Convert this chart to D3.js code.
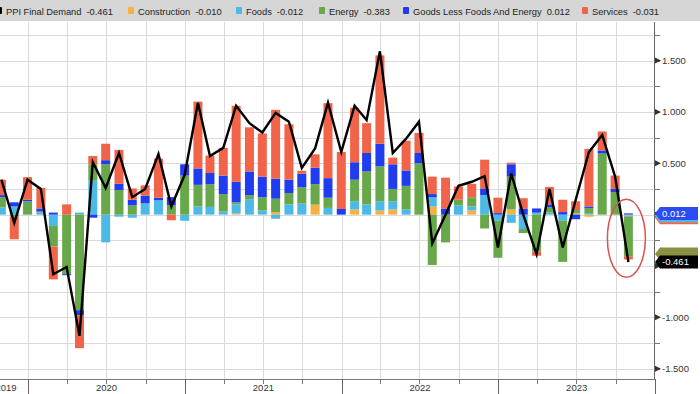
<!DOCTYPE html>
<html>
<head>
<meta charset="utf-8">
<script src="https://cdn.jsdelivr.net/npm/d3@7"></script>
<style>
body { margin:0; background:#fff; }
svg { display:block; font-family:"Liberation Sans", Arial, sans-serif; }
</style>
</head>
<body>
<svg id="chart" width="700" height="394"></svg>
<script>
// monthly readings (month-over-month contribution, %), Oct 2019 .. Oct 2023
var months = ["2019-10","2019-11","2019-12",
  "2020-01","2020-02","2020-03","2020-04","2020-05","2020-06","2020-07","2020-08","2020-09","2020-10","2020-11","2020-12",
  "2021-01","2021-02","2021-03","2021-04","2021-05","2021-06","2021-07","2021-08","2021-09","2021-10","2021-11","2021-12",
  "2022-01","2022-02","2022-03","2022-04","2022-05","2022-06","2022-07","2022-08","2022-09","2022-10","2022-11","2022-12",
  "2023-01","2023-02","2023-03","2023-04","2023-05","2023-06","2023-07","2023-08","2023-09","2023-10"];

var ppi = [0.34,-0.08,0.34,
  0.25,-0.58,-0.51,-1.18,0.51,0.26,0.60,0.17,0.25,0.59,0.08,0.385,
  1.09,0.57,0.65,1.06,0.89,0.80,0.99,0.905,0.455,0.645,1.09,0.61,
  1.06,0.92,1.59,0.60,0.74,0.905,-0.28,0.0,0.28,0.32,0.375,-0.32,
  0.40,0.0,-0.385,0.25,-0.32,0.14,0.61,0.775,0.37,-0.461];

var construction = [0,0,0,
  0,0,0,0,0,0,0,0,0,0,0,0,
  0,0,0,0.01,0,0,0.025,0,0,0.097,0,0,
  0.05,0,0.04,0.05,0,0,0.08,0,0,0.04,0,0,
  0.05,0,0,0,0,0.015,-0.02,0,0,-0.010];

var foods = [0.07,0.08,0,
  0.02,-0.11,0,0.02,0.33,-0.27,-0.02,-0.03,0.11,0.14,0,-0.06,
  0.08,0.075,0.03,0.09,0.15,0.04,-0.04,0.10,0.107,0,0.065,0,
  0.08,0.10,0.09,0.08,0.05,0,0.09,0,0.09,0.04,0.19,-0.06,
  -0.08,-0.14,0.02,0.02,-0.06,0,0.015,0,0,-0.012];

var energy = [0.10,-0.02,0.13,
  0.01,-0.20,-0.58,-0.93,0.16,0.49,0.24,0.09,0,0,0.09,0.38,
  0.21,0.22,0.17,0.02,0.04,0.13,0.13,0.11,0.16,0.20,0.10,0,
  0.21,0.32,0.34,0.12,0.23,0.50,-0.49,-0.27,0.055,0.09,-0.135,-0.36,
  0.32,-0.04,-0.36,0.05,-0.40,0.03,0.05,0.595,0.22,-0.383];

var goods = [0.02,0.04,0.015,
  0.03,0.02,-0.01,-0.05,-0.03,0.04,0.06,0.055,0.075,0.025,0.08,0.11,
  0.16,0.11,0.18,0.20,0.23,0.20,0.195,0.13,0.13,0.16,0.19,0.055,
  0.17,0.18,0.22,0.24,0.15,0.10,0.03,0.06,0,0,0.065,0.015,
  0.12,0.06,0.04,0.03,0.025,-0.045,0.015,0.03,0.03,0.012];

var services = [0.15,-0.22,0.22,
  0.20,-0.32,0.10,-0.32,0.08,0.16,0.33,0.11,0.10,0.38,-0.055,0,
  0.65,0.17,0.27,0.74,0.43,0.42,0.67,0.54,0.03,0.13,0.73,0.555,
  0.53,0.29,0.86,0.065,0.29,0.195,0.17,0.30,0.13,0.13,0.28,0.15,
  0.016,0.10,-0.04,0.17,0.12,0.085,0.56,0.185,0.13,-0.031];

var seriesKeys = ["construction","foods","energy","goods","services"];
var seriesNames = ["Construction","Foods","Energy","Goods Less Foods And Energy","Services"];
var seriesColors = ["#f5b144","#4db9e7","#68a84a","#1f3cf0","#f2644a"];
var lineName = "PPI Final Demand";
var yMajor = [-1.5,-1,-0.5,0,0.5,1,1.5];
var years = [2019,2020,2021,2022,2023];

var W = 700, H = 394;
var plotL = 0, plotR = 654, plotT = 22, plotB = 379;
var svg = d3.select('#chart');
var fmt = d3.formatLocale({decimal:'.', thousands:',', grouping:[3], currency:['$',''], minus:'-'}).format('.3f');

var parseM = d3.timeParse('%Y-%m');
var columns = {construction:construction, foods:foods, energy:energy, goods:goods, services:services};
var rows = months.map(function(m, i){
	// bloomberg stamps monthly data on the last day of the month
	var r = {date: d3.timeDay.offset(d3.timeMonth.offset(parseM(m), 1), -1), ppi: ppi[i]};
	seriesKeys.forEach(function(k){ r[k] = columns[k][i]; });
	return r;
});

var x = d3.scaleTime().domain([new Date(2020,0,1), new Date(2024,0,1)]).range([28, 655]);
var y = d3.scaleLinear().domain([-1.6, 1.875]).range([plotB, plotT]);

svg.append('rect').attr('width', W).attr('height', H).attr('fill', '#fff');
svg.append('clipPath').attr('id', 'plotclip').append('rect')
	.attr('x', plotL).attr('y', plotT).attr('width', plotR - plotL).attr('height', plotB - plotT);

//Gridlines
var grid = svg.append('g').attr('stroke', '#dadada').attr('stroke-width', 1);
grid.selectAll('line.h').data(d3.range(-1.5, 1.8, 0.25)).enter().append('line')
	.attr('x1', plotL).attr('x2', plotR)
	.attr('y1', function(d){ return Math.round(y(d)) + 0.5; })
	.attr('y2', function(d){ return Math.round(y(d)) + 0.5; });
var quarters = d3.timeMonth.every(3).range(new Date(2019,9,1), new Date(2024,0,1));
grid.selectAll('line.v').data(quarters).enter().append('line')
	.attr('x1', function(d){ return Math.round(x(d)) + 0.5; })
	.attr('x2', function(d){ return Math.round(x(d)) + 0.5; })
	.attr('y1', plotT).attr('y2', plotB);

//Stacked bars
var stacked = d3.stack().keys(seriesKeys).offset(d3.stackOffsetDiverging)(rows);
var barW = 9;
var plot = svg.append('g').attr('clip-path', 'url(#plotclip)');
plot.selectAll('g.layer').data(stacked).enter().append('g')
	.attr('fill', function(d, i){ return seriesColors[i]; })
	.selectAll('rect').data(function(d){ return d; }).enter().append('rect')
	.attr('x', function(d){ return x(d.data.date) - barW / 2; })
	.attr('y', function(d){ return y(d[1]); })
	.attr('width', barW)
	.attr('height', function(d){ return Math.max(0, y(d[0]) - y(d[1])); });

//PPI line
plot.append('path').datum(rows)
	.attr('fill', 'none').attr('stroke', '#000').attr('stroke-width', 2.4)
	.attr('stroke-linejoin', 'miter')
	.attr('d', d3.line().x(function(d){ return x(d.date); }).y(function(d){ return y(d.ppi); }));

//Highlight ellipse around the latest reading
var last = rows[rows.length - 1];
svg.append('ellipse')
	.attr('cx', x(last.date) - 2).attr('cy', y(-0.23))
	.attr('rx', 19).attr('ry', 39)
	.attr('fill', 'none').attr('stroke', '#d9534f').attr('stroke-width', 1.5);

//Value callouts on the axis (back to front)
var callouts = [
	{v: services[services.length-1], c: seriesColors[4]},
	{v: construction[construction.length-1], c: seriesColors[0]},
	{v: foods[foods.length-1], c: seriesColors[1]},
	{v: energy[energy.length-1], c: '#8a9142'},
	{v: goods[goods.length-1], c: '#2a4cf2', show: true},
	{v: ppi[ppi.length-1], c: '#000', show: true}
];

//Right axis
var ax = svg.append('g');
ax.append('line').attr('x1', plotR + 0.5).attr('x2', plotR + 0.5).attr('y1', plotT).attr('y2', plotB)
	.attr('stroke', '#666');
ax.selectAll('line.minor').data(d3.range(-1.5, 1.8, 0.25)).enter().append('line')
	.attr('x1', plotR).attr('x2', plotR + 6)
	.attr('y1', function(d){ return Math.round(y(d)) + 0.5; })
	.attr('y2', function(d){ return Math.round(y(d)) + 0.5; })
	.attr('stroke', '#777');
ax.selectAll('path.tri').data(yMajor).enter().append('path')
	.attr('d', function(d){ var t = y(d); return 'M' + (plotR + 1) + ',' + (t - 3) + 'L' + (plotR + 7) + ',' + t + 'L' + (plotR + 1) + ',' + (t + 3) + 'Z'; })
	.attr('fill', '#333');
// labels sitting under a shown callout are hidden, as in the terminal
var shown = callouts.filter(function(c){ return c.show; });
ax.selectAll('text').data(yMajor.filter(function(d){
		return !shown.some(function(c){ return Math.abs(y(c.v) - y(d)) < 10; });
	})).enter().append('text')
	.attr('x', plotR + 8).attr('y', function(d){ return y(d); }).attr('dy', '0.35em')
	.attr('font-size', 9.5).attr('fill', '#333')
	.text(function(d){ return fmt(d); });

//Bottom axis
var bx = svg.append('g');
bx.append('line').attr('x1', 0).attr('x2', x(new Date(2024,0,1))).attr('y1', plotB + 0.5).attr('y2', plotB + 0.5)
	.attr('stroke', '#777');
bx.selectAll('line.q').data(quarters).enter().append('line')
	.attr('x1', function(d){ return Math.round(x(d)) + 0.5; })
	.attr('x2', function(d){ return Math.round(x(d)) + 0.5; })
	.attr('y1', plotB).attr('y2', plotB + 5).attr('stroke', '#777');
var yearStarts = years.slice(1).map(function(yr){ return new Date(yr, 0, 1); }).concat([new Date(2024,0,1)]);
bx.selectAll('line.yr').data(yearStarts).enter().append('line')
	.attr('x1', function(d){ return Math.round(x(d)) + 0.5; })
	.attr('x2', function(d){ return Math.round(x(d)) + 0.5; })
	.attr('y1', plotB).attr('y2', H).attr('stroke', '#666');
bx.selectAll('text').data(years).enter().append('text')
	.attr('x', function(yr){
		// centre each label in the visible part of its year (2019 runs off the left edge)
		var a = Math.max(x(new Date(yr,0,1)), -16), b = Math.min(x(new Date(yr+1,0,1)), 655);
		return (a + b) / 2;
	})
	.attr('y', 391).attr('text-anchor', 'middle')
	.attr('font-size', 9.5).attr('fill', '#333')
	.text(function(d){ return d; });

var cg = svg.append('g');
callouts.forEach(function(d){
	var t = y(d.v), h = 13, x0 = plotR + 1, x1 = 698;
	cg.append('path')
		.attr('d', 'M' + x0 + ',' + t + 'L' + (x0 + 5) + ',' + (t - h/2) + 'L' + x1 + ',' + (t - h/2) + 'L' + x1 + ',' + (t + h/2) + 'L' + (x0 + 5) + ',' + (t + h/2) + 'Z')
		.attr('fill', d.c);
	if(d.show) cg.append('text').attr('x', x0 + 7).attr('y', t).attr('dy', '0.35em')
		.attr('font-size', 9.5).attr('fill', '#fff').text(fmt(d.v));
});

//Legend bar
var lg = svg.append('g');
lg.append('rect').attr('width', W).attr('height', 21).attr('fill', '#d6d6d6');
var legend = [{name: lineName, v: ppi[ppi.length-1], c: '#000'}].concat(seriesKeys.map(function(k, i){
	return {name: seriesNames[i], v: columns[k][columns[k].length-1], c: seriesColors[i]};
}));
var legendX = [-4, 128, 236, 319, 403, 582];
legend.forEach(function(d, i){
	var gx = legendX[i];
	lg.append('rect').attr('x', gx).attr('y', 7).attr('width', 6).attr('height', 7).attr('rx', 1).attr('fill', d.c);
	var t = lg.append('text').attr('x', gx + 10).attr('y', 14.5).attr('font-size', 9.3).attr('fill', '#222').text(d.name);
	var w = t.node().getComputedTextLength();
	lg.append('text').attr('x', gx + 10 + w + 5).attr('y', 14.5).attr('font-size', 9.3).attr('fill', '#222').text(fmt(d.v));
});
</script>
</body>
</html>
